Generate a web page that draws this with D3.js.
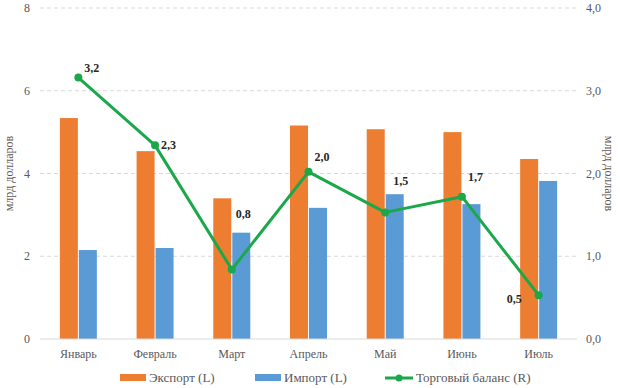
<!DOCTYPE html>
<html>
<head>
<meta charset="utf-8">
<script src="https://cdn.jsdelivr.net/npm/d3@7"></script>
<style>
  body { margin: 0; background: #fff; }
</style>
</head>
<body>
<div id="chart"></div>
<script>
// Chart data
var months = ["Январь", "Февраль", "Март", "Апрель", "Май", "Июнь", "Июль"];
var exportVals = [5.34, 4.54, 3.40, 5.16, 5.07, 5.00, 4.35];
var importVals = [2.15, 2.20, 2.57, 3.17, 3.50, 3.26, 3.82];
var balanceVals = [3.16, 2.34, 0.84, 2.02, 1.53, 1.72, 0.53];
var balanceLabels = ["3,2", "2,3", "0,8", "2,0", "1,5", "1,7", "0,5"];
var leftTicks = [0, 2, 4, 6, 8];
var rightTicks = [0, 1, 2, 3, 4];

var svgWidth = 620;
var svgHeight = 388;
var margin = { top: 8, right: 43, bottom: 49, left: 40 };
var width = svgWidth - margin.left - margin.right;
var height = svgHeight - margin.top - margin.bottom;

var colors = { exp: "#ED7D31", imp: "#5B9BD5", bal: "#1AA84A" };
var serif = "'Liberation Serif', 'Tinos', 'DejaVu Serif', 'Times New Roman', serif";

var svg = d3.select("#chart").append("svg")
	.attr("width", svgWidth)
	.attr("height", svgHeight)
	.attr("font-family", serif)
	.style("font-family", serif);

var chartGroup = svg.append("g")
	.attr("transform", `translate(${margin.left}, ${margin.top})`);

var x = d3.scaleBand().domain(months).range([0, width]);
var yL = d3.scaleLinear().domain([0, 8]).range([height, 0]);
var yR = d3.scaleLinear().domain([0, 4]).range([height, 0]);

var barW = 18;

// gridlines
chartGroup.selectAll(".grid")
	.data(leftTicks.filter(d => d > 0))
	.enter().append("line")
	.attr("x1", 0).attr("x2", width)
	.attr("y1", d => yL(d)).attr("y2", d => yL(d))
	.attr("stroke", "#D9D9D9")
	.attr("stroke-dasharray", "4,3");

// bars
chartGroup.selectAll(".exp")
	.data(exportVals)
	.enter().append("rect")
	.attr("x", (d, i) => x(months[i]) + x.bandwidth() / 2 - barW - 0.5)
	.attr("y", d => yL(d))
	.attr("width", barW)
	.attr("height", d => height - yL(d))
	.attr("fill", colors.exp);

chartGroup.selectAll(".imp")
	.data(importVals)
	.enter().append("rect")
	.attr("x", (d, i) => x(months[i]) + x.bandwidth() / 2 + 0.5)
	.attr("y", d => yL(d))
	.attr("width", barW)
	.attr("height", d => height - yL(d))
	.attr("fill", colors.imp);

// bottom axis line
chartGroup.append("line")
	.attr("x1", 0).attr("x2", width)
	.attr("y1", height).attr("y2", height)
	.attr("stroke", "#D9D9D9");

// balance line
var line = d3.line()
	.x((d, i) => x(months[i]) + x.bandwidth() / 2)
	.y(d => yR(d));

chartGroup.append("path")
	.datum(balanceVals)
	.attr("d", line)
	.attr("fill", "none")
	.attr("stroke", colors.bal)
	.attr("stroke-width", 3)
	.attr("stroke-linejoin", "round");

chartGroup.selectAll(".pt")
	.data(balanceVals)
	.enter().append("circle")
	.attr("cx", (d, i) => x(months[i]) + x.bandwidth() / 2)
	.attr("cy", d => yR(d))
	.attr("r", 4)
	.attr("fill", colors.bal);

// data labels (offsets from each point)
var labelOffsets = [[6, -6], [6, 4], [4, -51], [6, -11], [8, -27], [6, -16], [-32, 8]];
chartGroup.selectAll(".lbl")
	.data(balanceVals)
	.enter().append("text")
	.attr("x", (d, i) => x(months[i]) + x.bandwidth() / 2 + labelOffsets[i][0])
	.attr("y", (d, i) => yR(d) + labelOffsets[i][1])
	.attr("font-size", "12px")
	.attr("font-weight", "bold")
	.attr("fill", "#262626")
	.text((d, i) => balanceLabels[i]);

// left axis ticks
chartGroup.selectAll(".lt")
	.data(leftTicks)
	.enter().append("text")
	.attr("x", -10)
	.attr("y", d => yL(d) + 4)
	.attr("text-anchor", "end")
	.attr("font-size", "12px")
	.attr("fill", "#595959")
	.text(d => d);

// right axis ticks
chartGroup.selectAll(".rt")
	.data(rightTicks)
	.enter().append("text")
	.attr("x", width + 9)
	.attr("y", d => yR(d) + 4)
	.attr("font-size", "12px")
	.attr("fill", "#595959")
	.text(d => d3.format(".1f")(d).replace(".", ","));

// month labels
chartGroup.selectAll(".mt")
	.data(months)
	.enter().append("text")
	.attr("x", d => x(d) + x.bandwidth() / 2)
	.attr("y", height + 19)
	.attr("text-anchor", "middle")
	.attr("font-size", "12px")
	.attr("fill", "#595959")
	.text(d => d);

// axis titles
svg.append("text")
	.attr("transform", `translate(13, ${margin.top + height / 2}) rotate(-90)`)
	.attr("text-anchor", "middle")
	.attr("font-size", "12px")
	.attr("fill", "#595959")
	.text("млрд долларов");

svg.append("text")
	.attr("transform", `translate(605, ${margin.top + height / 2}) rotate(90)`)
	.attr("text-anchor", "middle")
	.attr("font-size", "12px")
	.attr("fill", "#595959")
	.text("млрд долларов");

// legend
var legend = svg.append("g").attr("transform", "translate(0, 378)");

legend.append("rect").attr("x", 120).attr("y", -4).attr("width", 26).attr("height", 7).attr("fill", colors.exp);
legend.append("text").attr("x", 149).attr("y", 4).attr("font-size", "13px").attr("fill", "#595959").text("Экспорт (L)");

legend.append("rect").attr("x", 255).attr("y", -4).attr("width", 26).attr("height", 7).attr("fill", colors.imp);
legend.append("text").attr("x", 284).attr("y", 4).attr("font-size", "13px").attr("fill", "#595959").text("Импорт (L)");

legend.append("line").attr("x1", 385).attr("x2", 413).attr("y1", 0).attr("y2", 0).attr("stroke", colors.bal).attr("stroke-width", 3);
legend.append("circle").attr("cx", 399).attr("cy", 0).attr("r", 3.5).attr("fill", colors.bal);
legend.append("text").attr("x", 416).attr("y", 4).attr("font-size", "13px").attr("fill", "#595959").text("Торговый баланс (R)");
</script>
</body>
</html>
